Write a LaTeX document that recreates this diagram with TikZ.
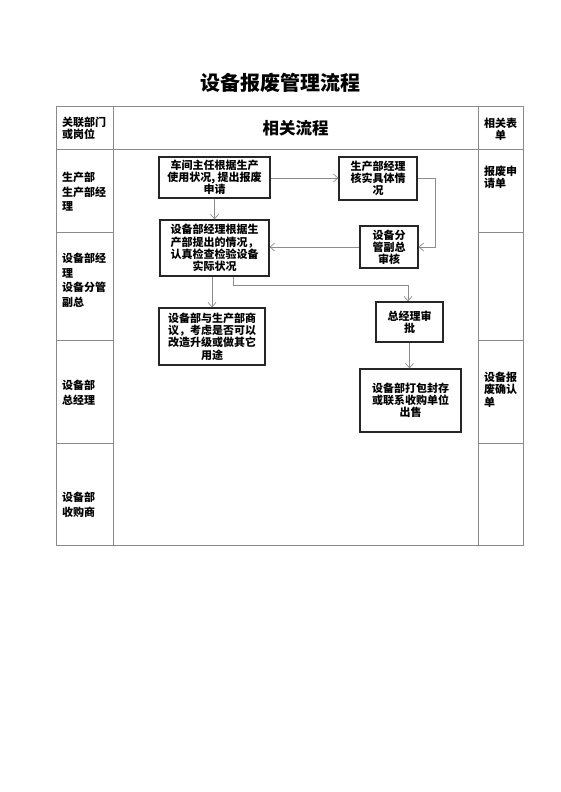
\documentclass[tikz,border=0pt]{standalone}
\usepackage{fontspec}
\setmainfont{Noto Sans CJK SC}
\usetikzlibrary{arrows.meta}
\definecolor{gridgray}{HTML}{8A8A8A}
\definecolor{arrgray}{HTML}{8C8C8C}
\tikzset{
  gridline/.style={draw=gridgray, line width=0.8pt},
  flowbox/.style={draw=black!85, line width=1.2pt, align=center, inner sep=0pt,
    font=\fontsize{11}{12.2}\selectfont\bfseries},
  conn/.style={draw=arrgray, line width=0.7pt},
  arr/.style={conn, -{Straight Barb[length=4.5pt,width=8pt]}},
  lefttext/.style={anchor=west, align=left, inner sep=0pt,
    font=\fontsize{11}{14.5}\selectfont\bfseries},
  righttext/.style={anchor=west, align=left, inner sep=0pt,
    font=\fontsize{11}{12.3}\selectfont\bfseries},
}
\begin{document}
\begin{tikzpicture}[x=1pt,y=-1pt]
\useasboundingbox[fill=white] (0,0) rectangle (560,792);
% title
\node[font=\fontsize{20}{22}\selectfont\bfseries] (title) at (280,83) {设备报废管理流程};
% table
\draw[gridline] (56,106) rectangle (523,545);
\draw[gridline] (113,106) -- (113,545);
\draw[gridline] (478,106) -- (478,545);
\draw[gridline] (56,149) -- (523,149);
\foreach \yy in {232,340,443}{
  \draw[gridline] (56,\yy) -- (113,\yy);
  \draw[gridline] (478,\yy) -- (523,\yy);
}
% header texts
\node[lefttext, font=\fontsize{11}{12.3}\selectfont\bfseries] (hl) at (62,128) {关联部门\\或岗位};
\node[font=\fontsize{16.5}{18}\selectfont\bfseries, inner sep=0pt] (hc) at (295.5,128) {相关流程};
\node[align=center, inner sep=0pt, font=\fontsize{11}{12.3}\selectfont\bfseries] (hr) at (500.5,129) {相关表\\单};
% left column
\node[lefttext] (l1) at (62,192) {生产部\\生产部经\\理};
\node[lefttext] (l2) at (62,280.5) {设备部经\\理\\设备分管\\副总};
\node[lefttext] (l3) at (62,392.5) {设备部\\总经理};
\node[lefttext] (l4) at (62,505) {设备部\\收购商};
% right column
\node[righttext] (r1) at (484,177.5) {报废申\\请单};
\node[righttext] (r3) at (484,389.5) {设备报\\废确认\\单};
% flow boxes
\node[flowbox, minimum width=111pt, minimum height=41pt] (b1) at (214.5,177.5) {车间主任根据生产\\使用状况, 提出报废\\申请};
\node[flowbox, minimum width=78pt, minimum height=43pt] (b2) at (378,178.5) {生产部经理\\核实具体情\\况};
\node[flowbox, minimum width=109pt, minimum height=56pt] (b3) at (214.5,248) {设备部经理根据生\\产部提出的情况，\\认真检查检验设备\\实际状况};
\node[flowbox, minimum width=58pt, minimum height=42pt] (b4) at (389,247) {设备分\\管副总\\审核};
\node[flowbox, minimum width=106pt, minimum height=57pt] (b5) at (212,336.5) {设备部与生产部商\\议，考虑是否可以\\改造升级或做其它\\用途};
\node[flowbox, minimum width=67pt, minimum height=40pt] (b6) at (409.5,322) {总经理审\\批};
\node[flowbox, minimum width=101pt, minimum height=63pt] (b7) at (410.5,400.5) {设备部打包封存\\或联系收购单位\\出售};
% connectors
\coordinate (c1) at (435.5,178);
\coordinate (c2) at (233,285);
\coordinate (c3) at (408,285);
\draw[arr] (b1.east |- 0,178) -- (b2.west |- 0,178);
\draw[arr] (b2.east |- c1) -- (c1) -- (c1 |- b4.east) -- (b4.east);
\draw[arr] (b4.west) -- (b3.east |- b4.west);
\draw[arr] (b1.south) -- (b3.north);
\draw[arr] (b3.south -| b5.north) -- (b5.north);
\draw[arr] (c2 |- b3.south) -- (c2) -- (c3) -- (c3 |- b6.north);
\draw[arr] (b6.south) -- (b6.south |- b7.north);
\end{tikzpicture}
\end{document}
